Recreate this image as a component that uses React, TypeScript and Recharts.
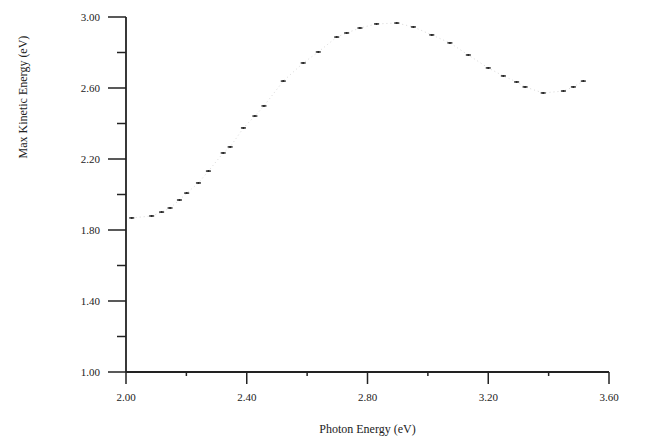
import React from 'react';
import { ScatterChart, Scatter, XAxis, YAxis, Label } from 'recharts';

// photon energy (eV) vs max kinetic energy (eV)
const photonEnergy = [
  2.019, 2.085, 2.118, 2.146, 2.177, 2.201, 2.24, 2.273, 2.322, 2.345, 2.389,
  2.427, 2.457, 2.521, 2.587, 2.637, 2.698, 2.731, 2.775, 2.83, 2.897, 2.952,
  3.013, 3.073, 3.134, 3.2, 3.25, 3.294, 3.322, 3.382, 3.449, 3.482, 3.515
];
const kineticEnergy = [
  1.868, 1.879, 1.901, 1.924, 1.969, 2.008, 2.065, 2.132, 2.234, 2.268, 2.375,
  2.442, 2.499, 2.639, 2.741, 2.803, 2.887, 2.91, 2.938, 2.961, 2.966, 2.944,
  2.899, 2.854, 2.786, 2.713, 2.668, 2.634, 2.606, 2.572, 2.583, 2.606, 2.639
];

const xTicks = [2.0, 2.2, 2.4, 2.6, 2.8, 3.0, 3.2, 3.4, 3.6];
const xMajor = [2.0, 2.4, 2.8, 3.2, 3.6];
const yTicks = [1.0, 1.2, 1.4, 1.6, 1.8, 2.0, 2.2, 2.4, 2.6, 2.8, 3.0];
const yMajor = [1.0, 1.4, 1.8, 2.2, 2.6, 3.0];

const FONT = 'Liberation Serif';
const INK = '#222';

const isMajor = (list: number[], v: number) => list.some((m) => Math.abs(m - v) < 1e-6);

const XTick = (props: any) => {
  const { x, y, payload } = props;
  const major = isMajor(xMajor, payload.value);
  return (
    <g>
      <line x1={x} y1={y} x2={x} y2={y + (major ? 12 : 4)} stroke={INK} strokeWidth={1.5} />
      {major && (
        <text x={x} y={y + 29} textAnchor="middle" fontSize={11} fontFamily={FONT} fill={INK}>
          {payload.value.toFixed(2)}
        </text>
      )}
    </g>
  );
};

const YTick = (props: any) => {
  const { x, y, payload } = props;
  const major = isMajor(yMajor, payload.value);
  return (
    <g>
      <line x1={x} y1={y} x2={x - (major ? 18 : 9)} y2={y} stroke={INK} strokeWidth={1.5} />
      {major && (
        <text x={x - 26} y={y + 4} textAnchor="end" fontSize={11} fontFamily={FONT} fill={INK}>
          {payload.value.toFixed(2)}
        </text>
      )}
    </g>
  );
};

const Marker = (props: any) => {
  const { cx, cy } = props;
  return (
    <g>
      <line x1={cx - 2.5} y1={cy} x2={cx + 2.5} y2={cy} stroke={INK} strokeWidth={1.4} />
      <circle cx={cx} cy={cy} r={1} fill={INK} />
    </g>
  );
};

const YTitle = () => (
  <text
    x={19}
    y={89}
    transform="rotate(-90, 19, 89)"
    textAnchor="middle"
    fontSize={12}
    fontFamily={FONT}
    fill={INK}
  >
    Max Kinetic Energy (eV)
  </text>
);

export default function App() {
  const data = photonEnergy.map((e, i) => ({ e, k: kineticEnergy[i] }));

  return (
    <div style={{ width: 631, height: 434 }}>
      <ScatterChart width={631} height={434} margin={{ top: 9, right: 30, left: 58, bottom: 40 }}>
        <XAxis
          type="number"
          dataKey="e"
          domain={[2, 3.6]}
          ticks={xTicks}
          interval={0}
          tickSize={0}
          tickMargin={0}
          tickLine={false}
          tick={<XTick />}
          axisLine={{ stroke: INK, strokeWidth: 1.8 }}
          height={30}
        >
          <Label
            value="Photon Energy (eV)"
            position="bottom"
            offset={22}
            style={{ fontSize: 12, fontFamily: FONT, fill: INK }}
          />
        </XAxis>
        <YAxis
          type="number"
          dataKey="k"
          domain={[1, 3]}
          ticks={yTicks}
          interval={0}
          tickSize={0}
          tickMargin={0}
          tickLine={false}
          tick={<YTick />}
          axisLine={{ stroke: INK, strokeWidth: 1.8 }}
          width={60}
        >
          <Label content={<YTitle />} />
        </YAxis>
        <Scatter
          data={data}
          shape={<Marker />}
          line={{ stroke: '#d8d8d8', strokeWidth: 1, strokeDasharray: '1 3' }}
          isAnimationActive={false}
        />
      </ScatterChart>
    </div>
  );
}
